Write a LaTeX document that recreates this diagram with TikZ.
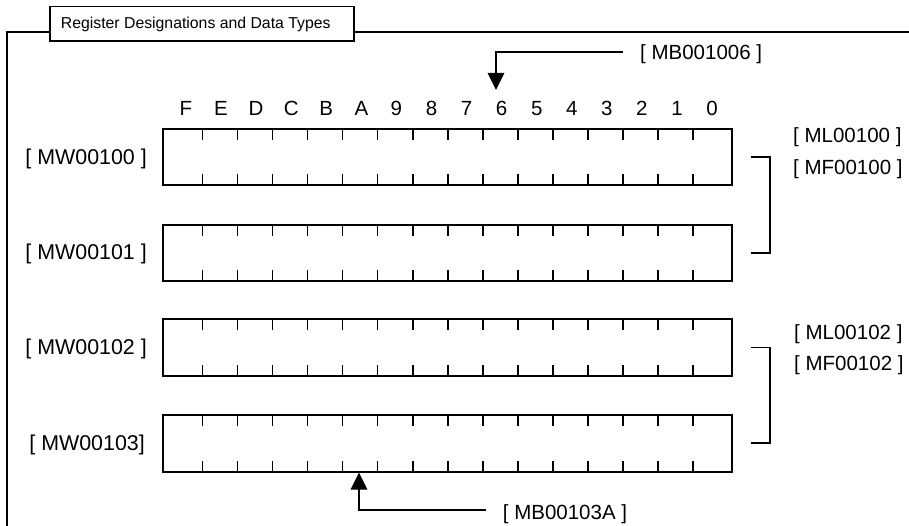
\documentclass[tikz,border=0pt]{standalone}
\usepackage{fontspec}
\setmainfont{Liberation Sans}
\usetikzlibrary{arrows.meta}
\begin{document}
\begin{tikzpicture}[x=1pt,y=-1pt,
  lbl/.style={inner sep=0pt,font=\fontsize{20.5}{24}\selectfont},
  biglbl/.style={inner sep=0pt,font=\fontsize{21.4}{25}\selectfont},
  reg/.style={draw,line width=2pt,minimum width=568.2pt,minimum height=56.5pt,inner sep=0pt,anchor=north west},
  tickline/.style={line width=1.6pt},
  conn/.style={line width=1.6pt},
  tip/.style={-{Triangle[length=17pt,width=16.5pt]}}
]
\useasboundingbox (0,0) rectangle (909,526);
% frame
\draw[conn] (6.7,526) -- (6.7,32.3) -- (909,32.3);
\node[draw,line width=1.6pt,fill=white,minimum width=304pt,minimum height=34.3pt,inner sep=0pt,anchor=north west] (titlebox) at (49.3,5.7) {};
\node[inner sep=0pt,anchor=base west,font=\fontsize{15.8}{18}\selectfont] (title) at (60.7,28.3) {Register Designations and Data Types};
% registers
\node[reg] (r1) at (162.3,127.7) {};
\node[reg] (r2) at (162.3,224) {};
\node[reg] (r3) at (162.3,318.3) {};
\node[reg] (r4) at (162.3,414) {};
\foreach \r in {r1,r2,r3,r4}{
  \foreach \k in {0,...,14}{
    \draw[tickline] ([xshift={40pt+35.07pt*\k}]\r.north west) -- ++(0,12);
    \draw[tickline] ([xshift={40pt+35.07pt*\k}]\r.south west) -- ++(0,-12);
  }
}
% bit labels
\foreach \t [count=\i from 0] in {F,E,D,C,B,A,9,8,7,6,5,4,3,2,1,0}
  \node[lbl,anchor=base] (b\i) at ({186+35.07*\i},115.7) {\t};
% left labels
\node[biglbl,anchor=base east] (l1) at (147,164.2) {[ MW00100 ]};
\node[biglbl,anchor=base east] (l2) at (147,259.2) {[ MW00101 ]};
\node[biglbl,anchor=base east] (l3) at (147,354.2) {[ MW00102 ]};
\node[biglbl,anchor=base east] (l4) at (145,450.8) {[ MW00103]};
% right labels
\node[lbl,anchor=base west] (ml1) at (793,142.5) {[ ML00100 ]};
\node[lbl,anchor=base west] (mf1) at (793,174.8) {[ MF00100 ]};
\node[lbl,anchor=base west] (ml2) at (794,339) {[ ML00102 ]};
\node[lbl,anchor=base west] (mf2) at (794,370.8) {[ MF00102 ]};
% brackets
\draw[conn] ([xshift=18.5pt]r1.east) -- ++(19,0) |- ([xshift=18.5pt]r2.east);
\draw[conn] ([xshift=18.5pt]r3.east) -- ++(19,0) |- ([xshift=18.5pt]r4.east);
% byte pointers
\node[lbl,anchor=base west] (mb1) at (640,59.5) {[ MB001006 ]};
\node[lbl,anchor=base west] (mb2) at (502.7,519) {[ MB00103A ]};
\coordinate (t1) at (496,90);
\draw[conn,tip] ([xshift=-17pt,yshift=2.3pt]mb1.west) -| (t1);
\draw[conn,tip] ([xshift=-17pt,yshift=3.7pt]mb2.west) -| ([xshift=196.7pt]r4.south west);
\end{tikzpicture}
\end{document}
